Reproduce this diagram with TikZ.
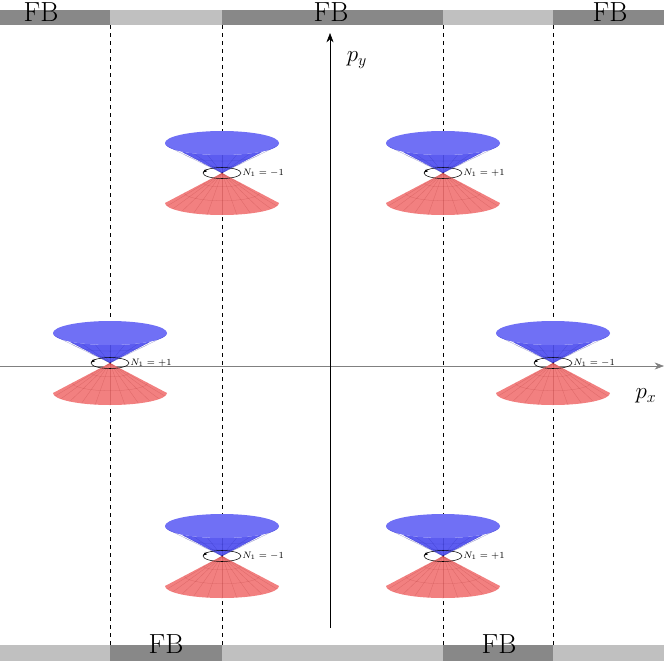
\documentclass[tikz,border=0pt]{standalone}
\usetikzlibrary{arrows.meta}
\definecolor{barD}{HTML}{888888}
\definecolor{barL}{HTML}{C0C0C0}
\definecolor{cblue}{HTML}{5C5CF0}
\definecolor{ctop}{HTML}{7070F5}
\definecolor{cred}{HTML}{F28080}
\tikzset{dash line/.style={dashed,thin},
 fbtext/.style={font=\huge}}
\newcommand{\mycone}[3]{%
 \begin{scope}[shift={(#1,#2)}]
  % upper blue
  \fill[cblue] (0,0) -- (-57,-30) arc[start angle=180,end angle=0,x radius=57,y radius=12] -- cycle;
  \fill[ctop] (0,-30) ellipse[x radius=57,y radius=12];
  \foreach \a in {15,30,...,165} {\draw[blue!50!black,opacity=.2,very thin] (0,0) -- ({57*cos(\a)},{-30+12*sin(\a)});}
  \foreach \r in {0.33,0.66} {\draw[blue!50!black,opacity=.2,very thin] ({-57*\r},{-30*\r}) arc[start angle=180,end angle=0,x radius={57*\r},y radius={12*\r}];}
  % lower red
  \fill[cred] (0,0) -- (-57,30) arc[start angle=180,end angle=0,x radius=57,y radius=12] -- cycle;
  \foreach \a in {15,30,...,165} {\draw[red!50!black,opacity=.2,very thin] (0,0) -- ({57*cos(\a)},{30+12*sin(\a)});}
  \foreach \r in {0.33,0.66} {\draw[red!50!black,opacity=.2,very thin] ({-57*\r},{30*\r}) arc[start angle=180,end angle=0,x radius={57*\r},y radius={12*\r}];}
  \draw[thin] (0,0) ellipse[x radius=19,y radius=5.5];
  \draw[-{Stealth[length=3pt]},thin] (-15,-3.5) -- (-19,-0.5);
  \node[anchor=west,inner sep=0pt,font=\scriptsize] at (20,0) {$N_1=#3$};
 \end{scope}}
\begin{document}
\begin{tikzpicture}[x=0.75pt,y=-0.75pt]
\useasboundingbox (0,0) rectangle (664,661);
% bars
\fill[barD] (0,10) rectangle (110,25);
\fill[barL] (110,10) rectangle (222,25);
\fill[barD] (222,10) rectangle (443,25);
\fill[barL] (443,10) rectangle (553,25);
\fill[barD] (553,10) rectangle (664,25);
\fill[barL] (0,645) rectangle (110,661);
\fill[barD] (110,645) rectangle (222,661);
\fill[barL] (222,645) rectangle (443,661);
\fill[barD] (443,645) rectangle (553,661);
\fill[barL] (553,645) rectangle (664,661);
\node[fbtext,inner sep=0pt] (fb1) at (41,12) {FB};
\node[fbtext,inner sep=0pt] (fb2) at (331,12) {FB};
\node[fbtext,inner sep=0pt] (fb3) at (610,12) {FB};
\node[fbtext] (fb4) at (166,644) {FB};
\node[fbtext] (fb5) at (499,644) {FB};
% dashed
\foreach \x in {110,222,443,553} \draw[dash line] (\x,25) -- (\x,645);
% axes
\draw[gray,-{Stealth[length=7pt]}] (0,366) -- (664,366);
\draw[-{Stealth[length=7pt]}] (330,628) -- (330,33);
\node[font=\LARGE] (py) at (357,60) {$p_y$};
\node[font=\LARGE] (px) at (646,396) {$p_x$};
% cones
\mycone{222}{173}{-1}
\mycone{443}{173}{+1}
\mycone{110}{363}{+1}
\mycone{553}{363}{-1}
\mycone{222}{556}{-1}
\mycone{443}{556}{+1}
\end{tikzpicture}
\end{document}
